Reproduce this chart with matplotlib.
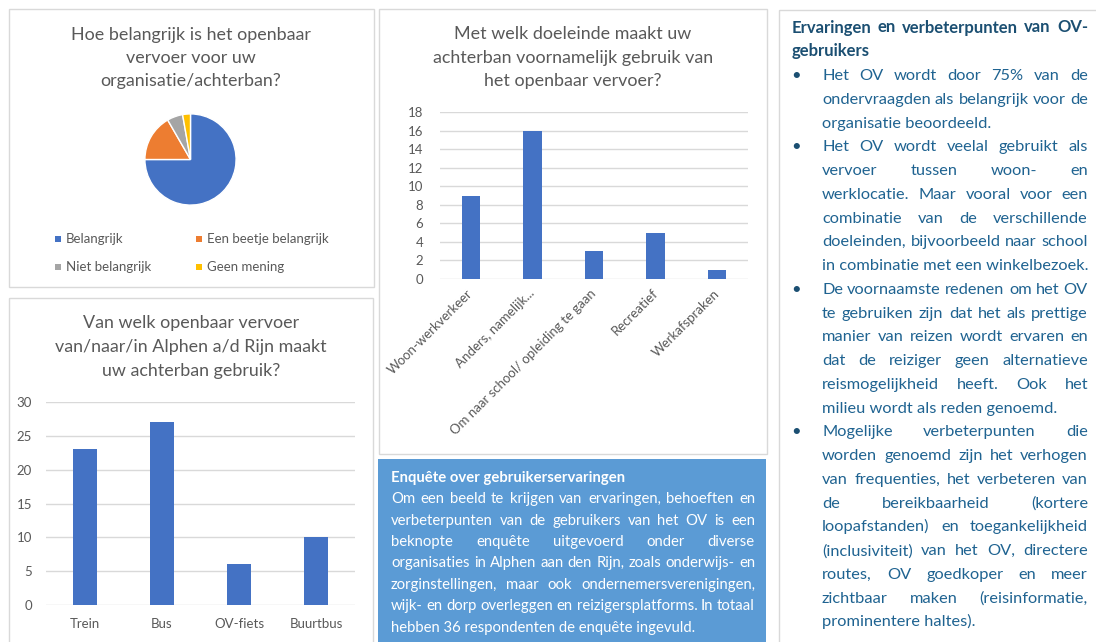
import matplotlib
matplotlib.use("Agg")
import matplotlib.pyplot as plt
from matplotlib.patches import Rectangle

plt.rcParams['font.family'] = ['Lato', 'DejaVu Sans']

# ---- data ----
pie_labels = ['Belangrijk', 'Een beetje belangrijk', 'Niet belangrijk', 'Geen mening']
pie_values = [27, 6, 2, 1]
pie_colors = ['#4472C4', '#ED7D31', '#A5A5A5', '#FFC000']

vervoer_labels = ['Trein', 'Bus', 'OV-fiets', 'Buurtbus']
vervoer_values = [23, 27, 6, 10]

doel_labels = ['Woon-werkverkeer', 'Anders, namelijk...', 'Om naar school/ opleiding te gaan',
               'Recreatief', 'Werkafspraken']
doel_values = [9, 16, 3, 5, 1]

pie_title = ['Hoe belangrijk is het openbaar', 'vervoer voor uw', 'organisatie/achterban?']
vervoer_title = ['Van welk openbaar vervoer', 'van/naar/in Alphen a/d Rijn maakt', 'uw achterban gebruik?']
doel_title = ['Met welk doeleinde maakt uw', 'achterban voornamelijk gebruik van', 'het openbaar vervoer?']

enquete_head = 'Enquête over gebruikerservaringen'
enquete_lines = ['Om een beeld te krijgen van ervaringen, behoeften en',
                 'verbeterpunten van de gebruikers van het OV is een',
                 'beknopte enquête uitgevoerd onder diverse',
                 'organisaties in Alphen aan den Rijn, zoals onderwijs- en',
                 'zorginstellingen, maar ook ondernemersverenigingen,',
                 'wijk- en dorp overleggen en reizigersplatforms. In totaal',
                 'hebben 36 respondenten de enquête ingevuld.']

ervaring_head = ['Ervaringen en verbeterpunten van OV-', 'gebruikers']
ervaring_bullets = [
    ['Het OV wordt door 75% van de', 'ondervraagden als belangrijk voor de', 'organisatie beoordeeld.'],
    ['Het OV wordt veelal gebruikt als', 'vervoer tussen woon- en', 'werklocatie. Maar vooral voor een',
     'combinatie van de verschillende', 'doeleinden, bijvoorbeeld naar school',
     'in combinatie met een winkelbezoek.'],
    ['De voornaamste redenen om het OV', 'te gebruiken zijn dat het als prettige',
     'manier van reizen wordt ervaren en', 'dat de reiziger geen alternatieve',
     'reismogelijkheid heeft. Ook het', 'milieu wordt als reden genoemd.'],
    ['Mogelijke verbeterpunten die', 'worden genoemd zijn het verhogen',
     'van frequenties, het verbeteren van', 'de bereikbaarheid (kortere',
     'loopafstanden) en toegankelijkheid', '(inclusiviteit) van het OV, directere',
     'routes, OV goedkoper en meer', 'zichtbaar maken (reisinformatie,', 'prominentere haltes).'],
]

W, H = 1096, 642
GRAY = '#595959'
GRID = '#D9D9D9'
BLUE = '#4472C4'

fig = plt.figure(figsize=(W / 100, H / 100), dpi=100)
bg = fig.add_axes([0, 0, 1, 1], zorder=0)
bg.set_xlim(0, W)
bg.set_ylim(H, 0)
bg.axis('off')


def rect(x0, y0, x1, y1):
    return [x0 / W, 1 - y1 / H, (x1 - x0) / W, (y1 - y0) / H]


# panels
bg.add_patch(Rectangle((9, 9), 365, 278, fill=False, ec=GRID, lw=1))
bg.add_patch(Rectangle((9, 298), 364, 360, fill=False, ec=GRID, lw=1))
bg.add_patch(Rectangle((379, 9), 388, 445, fill=False, ec=GRID, lw=1))
bg.add_patch(Rectangle((378, 459), 388, 200, fc='#5B9BD5', ec='none'))
bg.add_patch(Rectangle((779, 10), 330, 650, fill=False, ec=GRID, lw=1))


def title(lines, xc, y0, pitch):
    for i, s in enumerate(lines):
        bg.text(xc, y0 + i * pitch, s, ha='center', va='baseline', fontsize=12.9, color=GRAY)


title(pie_title, 191, 40, 23)
title(vervoer_title, 191, 328, 24)
title(doel_title, 573, 39, 23.5)

# pie
ax = fig.add_axes(rect(144, 113, 237, 206))
ax.pie(pie_values, colors=pie_colors, startangle=90, counterclock=False, radius=1,
       wedgeprops=dict(edgecolor='white', linewidth=1))
ax.set_xlim(-1.02, 1.02)
ax.set_ylim(-1.02, 1.02)

for i, lab in enumerate(pie_labels):
    x = [55, 196][i % 2]
    y = [239, 267][i // 2]
    bg.add_patch(Rectangle((x, y - 3), 6, 6, fc=pie_colors[i], ec='none'))
    bg.text(x + 11, y, lab, ha='left', va='center', fontsize=9.5, color=GRAY)


def style_bar(a, ymax, step):
    a.set_ylim(0, ymax)
    a.set_yticks(range(0, ymax + 1, step))
    a.grid(axis='y', color=GRID, lw=1, zorder=0)
    a.set_axisbelow(True)
    for s in a.spines.values():
        s.set_visible(False)
    a.tick_params(length=0, colors=GRAY, labelsize=9.5)
    a.tick_params(axis='y', pad=10)
    a.set_facecolor('none')


# bottom-left bar chart
ax2 = fig.add_axes(rect(46, 402, 355, 605))
ax2.bar(range(len(vervoer_values)), vervoer_values, width=0.31, color=BLUE)
ax2.set_xlim(-0.5, len(vervoer_values) - 0.5)
style_bar(ax2, 30, 5)
ax2.set_xticks(range(len(vervoer_labels)), vervoer_labels)
ax2.tick_params(axis='x', pad=9)

# middle bar chart
ax3 = fig.add_axes(rect(440, 112, 748, 279))
ax3.bar(range(len(doel_values)), doel_values, width=0.30, color=BLUE)
ax3.set_xlim(-0.5, len(doel_values) - 0.5)
style_bar(ax3, 18, 2)
ax3.tick_params(axis='y', pad=12)
ax3.set_xticks(range(len(doel_labels)), doel_labels, rotation=45, ha='right',
               rotation_mode='anchor', va='center')
ax3.tick_params(axis='x', pad=9)

# ---- justified text ----
renderer = fig.canvas.get_renderer()


def tw(s, size, weight):
    t = bg.text(0, 0, s, fontsize=size, fontweight=weight)
    w = t.get_window_extent(renderer).width
    t.remove()
    return w


def fit_size(lines, avail, base, weight):
    widest = max(tw(s, base, weight) for s in lines)
    return min(base, base * avail / widest)


def draw_line(s, x0, x1, y, size, weight, color, justify):
    words = s.split(' ')
    if not justify or len(words) == 1:
        bg.text(x0, y, s, fontsize=size, fontweight=weight, color=color, va='baseline')
        return
    widths = [tw(w, size, weight) for w in words]
    gap = (x1 - x0 - sum(widths)) / (len(words) - 1)
    x = x0
    for w, wd in zip(words, widths):
        bg.text(x, y, w, fontsize=size, fontweight=weight, color=color, va='baseline')
        x += wd + gap


# right panel
HEAD_C = '#1B4F72'
BODY_C = '#1F6391'
rx0, rx1, tx0 = 792, 1088, 822
all_body = [l for b in ervaring_bullets for l in b]
bsize = fit_size(all_body, rx1 - tx0, 12, 'normal')
hsize = fit_size(ervaring_head[:1], rx1 - rx0, 12, 'bold')
pitch = 23.76
y = 32.5
for i, s in enumerate(ervaring_head):
    draw_line(s, rx0, rx1, y, hsize, 'bold', HEAD_C, i < len(ervaring_head) - 1)
    y += pitch
for b in ervaring_bullets:
    bg.text(796, y, '•', fontsize=bsize, color=HEAD_C, va='baseline', ha='center')
    for i, s in enumerate(b):
        draw_line(s, tx0, rx1, y, bsize, 'normal', BODY_C, i < len(b) - 1)
        y += pitch

# blue box
ex0, ex1 = 391, 755
esize = fit_size(enquete_lines, ex1 - ex0, 11, 'normal')
y = 481.7
draw_line(enquete_head, ex0, ex1, y, esize, 'bold', 'white', False)
for i, s in enumerate(enquete_lines):
    y += 21.43
    draw_line(s, ex0, ex1, y, esize, 'normal', 'white', i < len(enquete_lines) - 1)

fig.savefig('out.png', dpi=100)
